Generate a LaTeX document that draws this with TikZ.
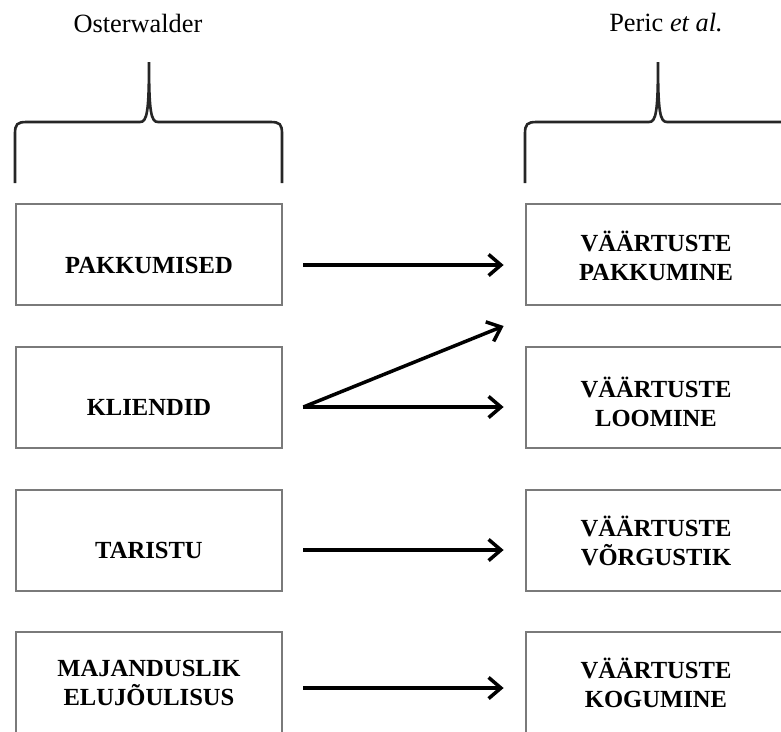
\documentclass[tikz,border=0pt]{standalone}
\usepackage{fontspec}
\setmainfont{Liberation Serif}
\usetikzlibrary{arrows.meta,positioning,calc}

\begin{document}
\begin{tikzpicture}[x=0.02cm, y=-0.02cm,
    lbox/.style={draw=black!52, line width=1.6pt, minimum width=5.32cm, minimum height=2.02cm, inner sep=0pt},
    rbox/.style={lbox, minimum width=5.2cm},
    lbl/.style={font=\fontsize{14}{16.5}\selectfont\bfseries, align=center, inner sep=0pt},
    ttl/.style={font=\fontsize{15}{18}\selectfont, inner sep=0pt},
    brace/.style={draw=black!85, line width=1.5pt},
    arr/.style={-{Straight Barb[length=7pt,width=12pt]}, line width=2pt}
]
\useasboundingbox (0,0) rectangle (781,731);
\clip (0,0) rectangle (781,731);

% titles
\node[ttl] (tl) at (138,23) {Osterwalder};
\node[ttl] (tr) at (666,23) {Peric \textit{et al.}};

% braces
\draw[brace] (15,183) -- (15,134) .. controls (15,124) and (17,122) .. (27,122) -- (140,122)
    .. controls (147,122) and (149,112) .. (149,62) .. controls (149,112) and (151,122) .. (158,122)
    -- (270,122) .. controls (280,122) and (282,124) .. (282,134) -- (282,183);
\draw[brace] (525,183) -- (525,134) .. controls (525,124) and (527,122) .. (537,122) -- (649,122)
    .. controls (656,122) and (658,112) .. (658,62) .. controls (658,112) and (660,122) .. (667,122)
    -- (779,122) .. controls (789,122) and (791,124) .. (791,134) -- (791,183);

% left column
\node[lbox] (l1) at (149,254.5) {};
\node[lbox] (l2) at (149,397.5) {};
\node[lbox] (l3) at (149,540.5) {};
\node[lbox] (l4) at (149,682.5) {};
\node[lbl] (t1) at (149,265) {PAKKUMISED};
\node[lbl] (t2) at (149,407) {KLIENDID};
\node[lbl] (t3) at (149,550) {TARISTU};
\node[lbl] (t4) at (149,683) {MAJANDUSLIK\\ELUJÕULISUS};

% right column
\node[rbox] (r1) at (656,254.5) {};
\node[rbox] (r2) at (656,397.5) {};
\node[rbox] (r3) at (656,540.5) {};
\node[rbox] (r4) at (656,682.5) {};
\node[lbl] (s1) at (656,256) {VÄÄRTUSTE\\PAKKUMINE};
\node[lbl] (s2) at (656,402) {VÄÄRTUSTE\\LOOMINE};
\node[lbl] (s3) at (656,541) {VÄÄRTUSTE\\VÕRGUSTIK};
\node[lbl] (s4) at (656,683) {VÄÄRTUSTE\\KOGUMINE};

% arrows
\coordinate (gap) at ($(r1.south west)!0.5!(r2.north west)$);
\draw[arr] ($(l1.east |- t1)+(20,0)$) -- ($(r1.west |- t1)+(-21,0)$);
\draw[arr] ($(l2.east |- t2)+(20,0)$) -- ($(r2.west |- t2)+(-21,0)$);
\draw[arr] ($(l2.east |- t2)+(20,0)$) -- ($(gap)+(-21,0)$);
\draw[arr] ($(l3.east |- t3)+(20,0)$) -- ($(r3.west |- t3)+(-21,0)$);
\draw[arr] ($(l4.east |- t4)+(20,5)$) -- ($(r4.west |- t4)+(-21,5)$);

\end{tikzpicture}
\end{document}
